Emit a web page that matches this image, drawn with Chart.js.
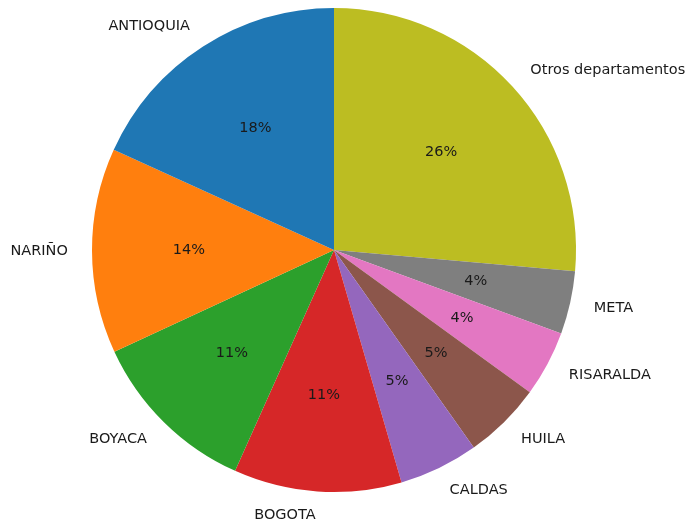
<!DOCTYPE html>
<html lang="es">
<head>
    <meta charset="UTF-8">
    <title>Departamentos</title>
    <style>
        body { margin: 0; background: #fff; }
        #wrap { width: 689px; height: 520px; position: relative; }
    </style>
    <script src="https://cdn.jsdelivr.net/npm/chart.js"></script>
</head>
<body>
<div id="wrap"><canvas id="pie"></canvas></div>
<script>
    // orden horario desde arriba (matplotlib lo dibuja antihorario)
    const departamentos = ['Otros departamentos', 'META', 'RISARALDA', 'HUILA', 'CALDAS', 'BOGOTA', 'BOYACA', 'NARIÑO', 'ANTIOQUIA'];
    const porcentajes = [26.4, 4.2, 4.4, 5.2, 5.3, 11.2, 11.4, 13.7, 18.2];
    const colores = ['#bcbd22', '#7f7f7f', '#e377c2', '#8c564b', '#9467bd', '#d62728', '#2ca02c', '#ff7f0e', '#1f77b4'];

    const etiquetas = {
        id: 'etiquetas',
        afterDatasetsDraw(chart) {
            const ctx = chart.ctx;
            const meta = chart.getDatasetMeta(0);
            const total = porcentajes.reduce((a, b) => a + b, 0);
            ctx.save();
            ctx.font = '14.5px "DejaVu Sans"';
            ctx.fillStyle = '#1a1a1a';
            ctx.textBaseline = 'middle';
            meta.data.forEach((arc, i) => {
                const mid = (arc.startAngle + arc.endAngle) / 2;
                const r = arc.outerRadius;
                const c = Math.cos(mid), s = Math.sin(mid);
                // nombre fuera del sector
                ctx.textAlign = c > 0 ? 'left' : 'right';
                ctx.fillText(departamentos[i], arc.x + c * r * 1.1, arc.y + s * r * 1.1);
                // porcentaje dentro
                ctx.textAlign = 'center';
                const pct = Math.round(porcentajes[i] / total * 100) + '%';
                ctx.fillText(pct, arc.x + c * r * 0.6, arc.y + s * r * 0.6);
            });
            ctx.restore();
        }
    };

    new Chart(document.getElementById('pie'), {
        type: 'pie',
        data: {
            labels: departamentos,
            datasets: [{
                data: porcentajes,
                backgroundColor: colores,
                borderWidth: 0
            }]
        },
        options: {
            responsive: true,
            maintainAspectRatio: false,
            animation: false,
            layout: { padding: { left: 92, right: 113, top: 8, bottom: 28 } },
            plugins: {
                legend: { display: false },
                tooltip: { enabled: false }
            }
        },
        plugins: [etiquetas]
    });
</script>
</body>
</html>
